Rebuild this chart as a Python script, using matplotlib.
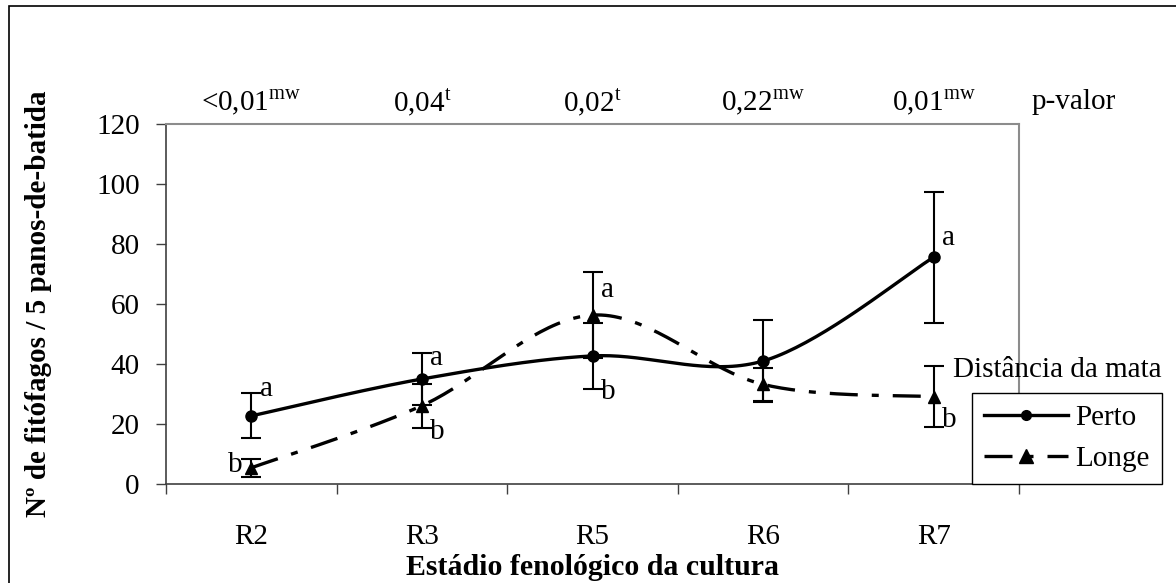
import numpy as np
import matplotlib
matplotlib.use("Agg")
import matplotlib.pyplot as plt
from matplotlib.lines import Line2D
from matplotlib.patches import Rectangle

plt.rcParams['font.family'] = ['Liberation Serif', 'DejaVu Serif']
plt.rcParams['mathtext.fontset'] = 'custom'
plt.rcParams['mathtext.rm'] = 'Liberation Serif'

# data
stages = ['R2', 'R3', 'R5', 'R6', 'R7']
perto = [22.7, 35.0, 42.7, 41.0, 75.6]
perto_err = [7.5, 8.6, 11.0, 13.8, 21.8]
longe = [5.4, 26.1, 56.3, 33.2, 29.1]
longe_err = [3.1, 7.4, 14.3, 5.6, 10.2]
p_values = [r'<0,01$^{\mathrm{mw}}$', r'0,04$^{\mathrm{t}}$', r'0,02$^{\mathrm{t}}$',
            r'0,22$^{\mathrm{mw}}$', r'0,01$^{\mathrm{mw}}$']

# letters of the mean comparison test (stage index, y, letter, side)
letters = [(0, 31.5, 'a', 'r'), (0, 6.3, 'b', 'l'),
           (1, 42.0, 'a', 'r'), (1, 17.3, 'b', 'r'),
           (2, 64.7, 'a', 'r'), (2, 30.7, 'b', 'r'),
           (4, 82.0, 'a', 'r'), (4, 21.3, 'b', 'r')]

FS = 21


# excel style smoothed line (bezier through the points)
def smooth(xs, ys, n=40):
    pts = np.column_stack([xs, ys]).astype(float)
    out = [pts[0]]
    for i in range(len(pts) - 1):
        p0 = pts[i - 1] if i > 0 else pts[i]
        p1, p2 = pts[i], pts[i + 1]
        p3 = pts[i + 2] if i + 2 < len(pts) else pts[i + 1]
        c1 = p1 + (p2 - p0) / 6
        c2 = p2 - (p3 - p1) / 6
        t = np.linspace(0, 1, n)[1:, None]
        seg = ((1 - t) ** 3) * p1 + 3 * ((1 - t) ** 2) * t * c1 + 3 * (1 - t) * t ** 2 * c2 + t ** 3 * p2
        out.extend(seg)
    out = np.array(out)
    return out[:, 0], out[:, 1]


fig = plt.figure(figsize=(11.76, 5.83), dpi=100)
ax = fig.add_axes([166 / 1176, 1 - 484 / 583, 853 / 1176, 360 / 583])

# outer frame
fig.patches.append(Rectangle((9 / 1176, -0.05), 1.2, 1 - 6 / 583 + 0.05, transform=fig.transFigure,
                             fill=False, edgecolor='black', linewidth=1.2))

x = np.arange(len(stages))
dash = (0, (8.4, 4.2, 2.1, 4.2))

sx, sy = smooth(x, perto)
ax.plot(sx, sy, color='black', lw=2.4, solid_capstyle='butt', zorder=3)
ax.errorbar(x, perto, yerr=perto_err, fmt='o', color='black', ms=8, elinewidth=1.5,
            capsize=7, capthick=1.5, zorder=4)

sx, sy = smooth(x, longe)
ax.plot(sx, sy, color='black', lw=2.4, linestyle=dash, dash_capstyle='butt', zorder=5)
ax.errorbar(x, longe, yerr=longe_err, fmt='^', color='black', ms=9, elinewidth=1.5,
            capsize=7, capthick=1.5, zorder=6)

for i, yv, let, side in letters:
    if side == 'r':
        ax.annotate(let, (i, yv), xytext=(6, 0), textcoords='offset points',
                    ha='left', va='center', fontsize=FS)
    else:
        ax.annotate(let, (i, yv), xytext=(-6, 0), textcoords='offset points',
                    ha='right', va='center', fontsize=FS)

# p-values on top
trans = ax.get_xaxis_transform()
for i, p in enumerate(p_values):
    ax.text(i, 1.061, p, transform=trans, ha='center', va='center', fontsize=FS)
ax.text(1.0645, 1.061, 'p-valor', transform=ax.transAxes, ha='center', va='center', fontsize=FS)

ax.set_xlim(-0.5, 4.5)
ax.set_ylim(0, 120)
ax.set_yticks(np.arange(0, 121, 20))
ax.set_xticks(np.arange(-0.5, 4.6, 1))
ax.set_xticklabels([])
ax.set_xticks(x, minor=True)
ax.set_xticklabels(stages, minor=True)
ax.tick_params(axis='x', which='major', direction='out', length=7, width=1, color='#404040')
ax.tick_params(axis='x', which='minor', length=0, pad=29, labelsize=FS)
ax.tick_params(axis='y', direction='out', length=7, width=1, color='#404040', pad=12, labelsize=FS)

for s in ['left', 'bottom']:
    ax.spines[s].set_color('#404040')
    ax.spines[s].set_linewidth(1.2)
for s in ['top', 'right']:
    ax.spines[s].set_color('#8c8c8c')
    ax.spines[s].set_linewidth(1.5)

ax.set_xlabel('Estádio fenológico da cultura', fontsize=21.5, fontweight='bold')
ax.xaxis.label.set_va('center')
ax.xaxis.set_label_coords(0.5, -0.233)
ax.set_ylabel('Nº de fitófagos / 5 panos-de-batida', fontsize=FS, fontweight='bold')
ax.yaxis.label.set_va('center')
ax.yaxis.set_label_coords(-0.150, 0.5)

# legend
h1 = Line2D([], [], color='black', lw=2.4, marker='o', ms=7)
h2 = Line2D([], [], color='black', lw=2.4, marker='^', ms=10, linestyle=dash)
leg = ax.legend([h1, h2], ['Perto', 'Longe'], loc='lower left', bbox_to_anchor=(0.945, 0.0),
                borderaxespad=0, fontsize=FS, handlelength=2.88, handletextpad=0.27,
                labelspacing=0.5, borderpad=0.4, fancybox=False, framealpha=1,
                edgecolor='black')
leg.get_frame().set_linewidth(1.0)
leg.set_zorder(10)
ax.text(1.045, 0.317, 'Distância da mata', transform=ax.transAxes, ha='center', va='center',
        fontsize=FS)

fig.savefig('out.png', dpi=100)
